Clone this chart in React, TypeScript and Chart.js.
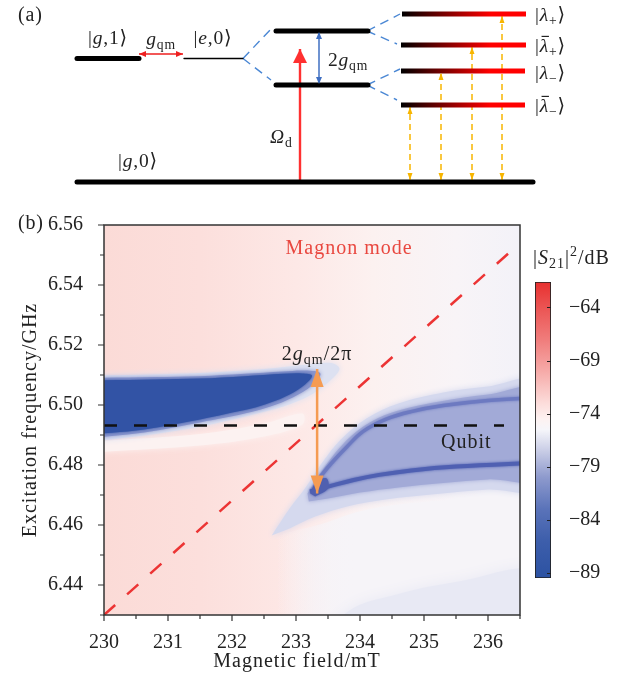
import React, { useEffect, useRef } from 'react';
import { Chart, registerables } from 'chart.js';

Chart.register(...registerables);

const SERIF = "'Liberation Serif', 'DejaVu Serif', 'DejaVu Sans', serif";
const INK = '#222222';

type Pt = [number, number];
type Seg = { t: string; i?: boolean; sub?: boolean; sup?: boolean; bar?: boolean };

// ================= Panel (a): energy-level diagram (layout units) =================
const levelStart = [77, 184, 276, 276, 77, 402, 401, 401, 401];
const levelEnd = [139, 243, 368, 368, 533, 526, 526, 525, 525];
const levelEnergy = [58.5, 58.5, 31, 85, 182, 14, 45, 71, 105];
const levelKind = ['thick', 'thin', 'thick', 'thick', 'thick', 'hybrid', 'hybrid', 'hybrid', 'hybrid'];

const splitFrom: Pt[] = [[243, 58.5], [243, 58.5], [367, 31], [367, 31], [367, 85], [367, 85]];
const splitTo: Pt[] = [[271, 29], [271, 80], [400, 14], [397, 44], [400, 69], [397, 100]];

const arrowFrom: Pt[] = [[139, 54], [300, 182], [319, 84], [410, 180], [441, 180], [472, 180], [502, 180]];
const arrowTo: Pt[] = [[183, 54], [300, 49], [319, 32], [410, 107], [441, 73], [472, 47], [502, 16]];
const arrowKind = ['coupling', 'drive', 'splitting', 'probe', 'probe', 'probe', 'probe'];

const diagramLabels: Seg[][] = [
  [{ t: '(a)' }],
  [{ t: '|' }, { t: 'g', i: true }, { t: ',1' }, { t: '\u27E9' }],
  [{ t: 'g', i: true }, { t: 'qm', sub: true }],
  [{ t: '|' }, { t: 'e', i: true }, { t: ',0' }, { t: '\u27E9' }],
  [{ t: '2' }, { t: 'g', i: true }, { t: 'qm', sub: true }],
  [{ t: '\u03A9', i: true }, { t: 'd', sub: true }],
  [{ t: '|' }, { t: 'g', i: true }, { t: ',0' }, { t: '\u27E9' }],
  [{ t: '|' }, { t: '\u03BB', i: true }, { t: '+', sub: true }, { t: '\u27E9' }],
  [{ t: '|' }, { t: '\u03BB', i: true, bar: true }, { t: '+', sub: true }, { t: '\u27E9' }],
  [{ t: '|' }, { t: '\u03BB', i: true }, { t: '\u2212', sub: true }, { t: '\u27E9' }],
  [{ t: '|' }, { t: '\u03BB', i: true, bar: true }, { t: '\u2212', sub: true }, { t: '\u27E9' }],
];
const diagramLabelPos: Pt[] = [[18, 21], [108, 44], [161, 45], [213, 44], [328, 66], [270, 143], [138, 167], [535, 21], [535, 52], [535, 79], [535, 112]];
const diagramLabelAlign = ['left', 'center', 'center', 'center', 'left', 'left', 'center', 'left', 'left', 'left', 'left'];

// ================= Panel (b): transmission map =================
const fieldMin = 230;
const fieldMax = 236.5;
const freqMin = 6.43;
const freqMax = 6.56;
const fieldStep = 0.5;
const freqStep = 0.01;

const qubitLine: Pt[] = [[230, 6.4932], [236.25, 6.4932]];
const magnonLine: Pt[] = [[230, 6.43], [236.5, 6.554]];
const gapArrow: Pt[] = [[233.33, 6.4705], [233.33, 6.512]];

const bgStops: Pt[] = [[230, 0], [231.5, 1], [233, 2], [234.2, 3], [235.5, 4], [236.5, 5]];
const bgColors = ['#fbdbd7', '#fcdfdc', '#fde8e6', '#fcf1f0', '#f8f4f7', '#f3f2f8'];

const lowerRightPale: Pt[] = [[232.5, 6.415], [232.5, 6.452], [233.5, 6.461], [234.2, 6.4655], [235.2, 6.468], [236.8, 6.4695], [236.8, 6.415]];
const lowerRightFade: Pt = [232.7, 233.9];
const bottomRightLav: Pt[] = [[233.2, 6.415], [233.8, 6.431], [234.6, 6.437], [235.5, 6.441], [236.8, 6.444], [236.8, 6.415]];
const leftWhiteStreak: Pt[] = [[229.8, 6.4878], [231.5, 6.4903], [232.5, 6.4938], [233.1, 6.4972], [233.1, 6.4935], [232.5, 6.4895], [231.5, 6.4865], [229.8, 6.4842]];
const leftHaloOuter: Pt[] = [[229.8, 6.5098], [231.5, 6.5107], [232.5, 6.512], [233.2, 6.5135], [233.55, 6.514], [233.68, 6.512], [233.5, 6.5075], [233.2, 6.503], [232.8, 6.4995], [232.3, 6.4967], [231.5, 6.4928], [230.8, 6.4903], [229.8, 6.4878]];
const leftHaloMid: Pt[] = [[229.8, 6.509], [230.8, 6.5093], [231.5, 6.5096], [232.2, 6.5104], [232.8, 6.5112], [233.15, 6.5115], [233.38, 6.5105], [233.25, 6.5065], [232.95, 6.5025], [232.6, 6.4995], [232.3, 6.4977], [231.9, 6.4958], [231.5, 6.4942], [231, 6.4922], [230.5, 6.4905], [229.8, 6.489]];
const leftCore: Pt[] = [[229.8, 6.5082], [230.8, 6.5085], [231.5, 6.5088], [232.2, 6.5096], [232.8, 6.5104], [233.1, 6.5105], [233.25, 6.5098], [233.15, 6.507], [232.9, 6.5035], [232.6, 6.5008], [232.3, 6.4988], [231.9, 6.497], [231.5, 6.4952], [231, 6.4932], [230.5, 6.4915], [229.8, 6.4902]];
const rightHaloOuter: Pt[] = [[232.62, 6.4565], [232.9, 6.4655], [233.15, 6.4725], [233.4, 6.4805], [233.7, 6.4885], [234.1, 6.4955], [234.6, 6.5005], [235.3, 6.5042], [236, 6.5062], [236.8, 6.5078], [236.8, 6.4725], [236, 6.4718], [235.2, 6.4703], [234.4, 6.4685], [233.8, 6.4662], [233.3, 6.4628], [232.9, 6.4588]];
const rightMedium: Pt[] = [[233.18, 6.4705], [233.42, 6.4785], [233.7, 6.4862], [234.05, 6.4928], [234.5, 6.4975], [235.2, 6.501], [236, 6.5035], [236.8, 6.505], [236.8, 6.4758], [236, 6.4752], [235.3, 6.474], [234.6, 6.4725], [234, 6.4708], [233.5, 6.4688], [233.2, 6.4678]];
const rightUpperLine: Pt[] = [[233.32, 6.4745], [233.55, 6.4805], [233.8, 6.4862], [234.05, 6.4912], [234.4, 6.4952], [234.8, 6.4978], [235.3, 6.4998], [236, 6.5015], [236.8, 6.5025]];
const rightLowerLine: Pt[] = [[233.22, 6.4712], [233.5, 6.4728], [233.9, 6.475], [234.3, 6.4767], [234.8, 6.4782], [235.5, 6.4795], [236.8, 6.4808]];
const rightTip: Pt[] = [[233.22, 6.4706], [233.32, 6.4745], [233.48, 6.4755], [233.5, 6.4722], [233.3, 6.4695]];

const heatTextMagnon: Seg[] = [{ t: 'Magnon mode' }];
const heatTextGap: Seg[] = [{ t: '2' }, { t: 'g', i: true }, { t: 'qm', sub: true }, { t: '/2\u03C0' }];
const heatTextQubit: Seg[] = [{ t: 'Qubit' }];
const heatTextPos: Pt[] = [[233.83, 6.5502], [233.33, 6.515], [235.66, 6.4856]];

// ================= Colour bar =================
const cbMin = -89.5;
const cbMax = -61.6;
const cbTicks = [-89, -84, -79, -74, -69, -64];
const cbStopValues = [-89.5, -86, -83, -80, -77.5, -75.5, -74.5, -73, -70, -67, -64, -61.6];
const cbStopColors = ['#2c52a2', '#3d5eab', '#5a73b9', '#8e9acd', '#c9cde6', '#f6f6fa', '#fdf2f1', '#fcdcda', '#f6aaa8', '#f07c7b', '#eb5453', '#e8302f'];
const cbTitle: Seg[] = [{ t: '|' }, { t: 'S', i: true }, { t: '21', sub: true }, { t: '|' }, { t: '2', sup: true }, { t: '/dB' }];

// ================= helpers =================
function segFont(s: Seg, size: number) {
  const sz = s.sub || s.sup ? size * 0.7 : size;
  return `${s.i ? 'italic ' : ''}${sz}px ${SERIF}`;
}

function drawRich(ctx: any, segs: Seg[], x: number, y: number, size: number, align: string, color: string, spacing = 0) {
  ctx.save();
  ctx.fillStyle = color;
  ctx.strokeStyle = color;
  ctx.textBaseline = 'alphabetic';
  ctx.textAlign = 'left';
  ctx.letterSpacing = spacing + 'px';
  let total = 0;
  const widths = segs.map((s) => {
    ctx.font = segFont(s, size);
    const w = ctx.measureText(s.t).width;
    total += w;
    return w;
  });
  let cx = align === 'center' ? x - total / 2 : align === 'right' ? x - total : x;
  segs.forEach((s, k) => {
    ctx.font = segFont(s, size);
    const dy = s.sub ? size * 0.22 : s.sup ? -size * 0.4 : 0;
    ctx.fillText(s.t, cx, y + dy);
    if (s.bar) {
      ctx.lineWidth = Math.max(1, size * 0.06);
      ctx.beginPath();
      ctx.moveTo(cx + widths[k] * 0.2, y - size * 0.8);
      ctx.lineTo(cx + widths[k] * 1.0, y - size * 0.8);
      ctx.stroke();
    }
    cx += widths[k];
  });
  ctx.restore();
}

function drawHead(ctx: any, tip: Pt, from: Pt, len: number, w: number, color: string) {
  const ang = Math.atan2(tip[1] - from[1], tip[0] - from[0]);
  const dx = Math.cos(ang), dy = Math.sin(ang);
  const bx = tip[0] - dx * len, by = tip[1] - dy * len;
  ctx.save();
  ctx.fillStyle = color;
  ctx.beginPath();
  ctx.moveTo(tip[0], tip[1]);
  ctx.lineTo(bx - dy * w / 2, by + dx * w / 2);
  ctx.lineTo(bx + dy * w / 2, by - dx * w / 2);
  ctx.closePath();
  ctx.fill();
  ctx.restore();
}

const baseOptions: any = {
  responsive: false,
  animation: false,
  events: [],
  plugins: { legend: { display: false }, tooltip: { enabled: false } },
  elements: { point: { radius: 0 }, line: { tension: 0, capBezierPoints: false } },
};

const toXY = (pts: Pt[]) => pts.map(([x, y]) => ({ x, y }));

// ================= Panel (a) chart =================
const arrowStyle: any = {
  coupling: { color: '#ee1f1f', width: 1.5, dash: [], both: true, len: 7, w: 6 },
  drive: { color: '#ff3030', width: 2.4, dash: [], both: false, len: 14, w: 14 },
  splitting: { color: '#3f6fc2', width: 1.5, dash: [], both: true, len: 7, w: 6 },
  probe: { color: '#f7b500', width: 1.5, dash: [6, 4], both: true, len: 7, w: 5 },
};

function makeDiagram(canvas: HTMLCanvasElement) {
  const datasets: any[] = [];
  levelStart.forEach((x1, k) => {
    const x2 = levelEnd[k];
    const kind = levelKind[k];
    datasets.push({
      data: [{ x: x1, y: levelEnergy[k] }, { x: x2, y: levelEnergy[k] }],
      borderColor: kind === 'hybrid'
        ? (c: any) => {
            const ch = c.chart;
            if (!ch.chartArea) return '#800000';
            const xs = ch.scales.x;
            const g = ch.ctx.createLinearGradient(xs.getPixelForValue(x1), 0, xs.getPixelForValue(x2), 0);
            g.addColorStop(0, '#000000');
            g.addColorStop(0.72, '#ff0000');
            g.addColorStop(1, '#ff0000');
            return g;
          }
        : '#000000',
      borderWidth: kind === 'thin' ? 1.3 : 5,
      borderCapStyle: kind === 'hybrid' ? 'butt' : 'round',
      clip: false,
    });
  });
  splitFrom.forEach((p, k) => {
    datasets.push({
      data: toXY([p, splitTo[k]]),
      borderColor: '#4a87d4',
      borderWidth: 1.4,
      borderDash: [9, 6],
      clip: false,
    });
  });
  arrowFrom.forEach((p, k) => {
    const st = arrowStyle[arrowKind[k]];
    datasets.push({
      data: toXY([p, arrowTo[k]]),
      borderColor: st.color,
      borderWidth: st.width,
      borderDash: st.dash,
      clip: false,
    });
  });

  const plugin = {
    id: 'diagramDecor',
    afterDatasetsDraw(chart: any) {
      const { ctx, scales } = chart;
      const px = (p: Pt): Pt => [scales.x.getPixelForValue(p[0]), scales.y.getPixelForValue(p[1])];
      arrowFrom.forEach((p, k) => {
        const st = arrowStyle[arrowKind[k]];
        const a = px(p), b = px(arrowTo[k]);
        drawHead(ctx, b, a, st.len, st.w, st.color);
        if (st.both) drawHead(ctx, a, b, st.len, st.w, st.color);
      });
      diagramLabels.forEach((segs, k) => {
        const [x, y] = px(diagramLabelPos[k]);
        drawRich(ctx, segs, x, y, k === 0 ? 20 : 19.5, diagramLabelAlign[k], INK, 0.8);
      });
    },
  };

  return new Chart(canvas, {
    type: 'line',
    data: { datasets },
    options: {
      ...baseOptions,
      layout: { padding: 0 },
      scales: {
        x: { type: 'linear', display: false, min: 0, max: 627 },
        y: { type: 'linear', display: false, min: 0, max: 200, reverse: true },
      },
    },
    plugins: [plugin],
  } as any);
}

// ================= Panel (b) chart =================
function applySoft(chart: any, idx: any) {
  const ds = idx == null ? null : chart.data.datasets[idx];
  const ctx = chart.ctx;
  if (ds && ds.soft) {
    ctx.shadowColor = ds.softColor;
    ctx.shadowBlur = ds.soft;
    ctx.shadowOffsetX = 0;
    ctx.shadowOffsetY = 0;
  } else {
    ctx.shadowColor = 'rgba(0,0,0,0)';
    ctx.shadowBlur = 0;
  }
}

function makeHeat(canvas: HTMLCanvasElement) {
  const paleFill = (c: any) => {
    const ch = c.chart;
    if (!ch.chartArea) return 'rgba(246,244,248,1)';
    const xs = ch.scales.x;
    const g = ch.ctx.createLinearGradient(xs.getPixelForValue(lowerRightFade[0]), 0, xs.getPixelForValue(lowerRightFade[1]), 0);
    g.addColorStop(0, 'rgba(246,244,248,0)');
    g.addColorStop(1, 'rgba(246,244,248,1)');
    return g;
  };
  const regions: any[] = [
    { pts: lowerRightPale, color: paleFill, softColor: 'rgba(246,244,248,1)', soft: 10 },
    { pts: bottomRightLav, color: '#e8e9f4', soft: 14 },
    { pts: leftWhiteStreak, color: '#fcf2f1', soft: 6 },
    { pts: leftHaloOuter, color: '#dde1f1', soft: 6 },
    { pts: leftHaloMid, color: '#8794cc', soft: 4 },
    { pts: leftCore, color: '#3253a5', soft: 3 },
    { pts: rightHaloOuter, color: '#d5d9ee', soft: 6 },
    { pts: rightMedium, color: '#a2aad7', soft: 4 },
  ];
  const datasets: any[] = regions.map((r) => ({
    data: toXY(r.pts),
    fill: 'shape',
    backgroundColor: r.color,
    borderColor: 'rgba(0,0,0,0)',
    borderWidth: 1,
    tension: 0.35,
    soft: r.soft,
    softColor: r.softColor || r.color,
    clip: 0,
  }));
  datasets.push(
    { data: toXY(rightUpperLine), borderColor: '#6d7ac1', borderWidth: 3.5, tension: 0.4, soft: 3, softColor: '#6d7ac1', fill: false, clip: 0 },
    { data: toXY(rightLowerLine), borderColor: '#4f60b2', borderWidth: 4, tension: 0.4, soft: 3, softColor: '#4f60b2', fill: false, clip: 0 },
    { data: toXY(rightTip), fill: 'shape', backgroundColor: '#5060b0', borderColor: 'rgba(0,0,0,0)', borderWidth: 1, tension: 0.35, soft: 3, softColor: '#5060b0', clip: 0 },
    { data: toXY(magnonLine), borderColor: '#ec3434', borderWidth: 2.5, borderDash: [15, 16], fill: false, clip: 0 },
    { data: toXY(qubitLine), borderColor: '#111111', borderWidth: 2.5, borderDash: [13, 17], fill: false, clip: 0 },
    { data: toXY(gapArrow), borderColor: '#f59b52', borderWidth: 2.5, fill: false, clip: 0 },
  );
  const n = datasets.length;
  datasets.forEach((d, k) => { d.order = n - k; d.pointRadius = 0; });

  const plugin = {
    id: 'heatDecor',
    beforeDatasetsDraw(chart: any) {
      const { ctx, chartArea: a, scales } = chart;
      const g = ctx.createLinearGradient(scales.x.getPixelForValue(fieldMin), 0, scales.x.getPixelForValue(fieldMax), 0);
      bgStops.forEach(([v, ci]) => g.addColorStop((v - fieldMin) / (fieldMax - fieldMin), bgColors[ci]));
      ctx.save();
      ctx.fillStyle = g;
      ctx.fillRect(a.left, a.top, a.width, a.height);
      ctx.restore();
      const order = chart.getSortedVisibleDatasetMetas().map((m: any) => m.index).reverse();
      chart.$softOrder = order;
      applySoft(chart, order[0]);
    },
    afterDatasetDraw(chart: any, args: any) {
      const order = chart.$softOrder || [];
      const pos = order.indexOf(args.index);
      applySoft(chart, order[pos + 1]);
    },
    afterDatasetsDraw(chart: any) {
      const { ctx, scales } = chart;
      applySoft(chart, null);
      const px = (p: Pt): Pt => [scales.x.getPixelForValue(p[0]), scales.y.getPixelForValue(p[1])];
      const a = px(gapArrow[0]), b = px(gapArrow[1]);
      drawHead(ctx, b, a, 18, 13, '#f59b52');
      drawHead(ctx, a, b, 18, 13, '#f59b52');
      const t0 = px(heatTextPos[0]);
      drawRich(ctx, heatTextMagnon, t0[0], t0[1], 20, 'center', '#e9473f', 1);
      const t1 = px(heatTextPos[1]);
      drawRich(ctx, heatTextGap, t1[0], t1[1], 20, 'center', INK, 1);
      const t2 = px(heatTextPos[2]);
      drawRich(ctx, heatTextQubit, t2[0], t2[1], 20, 'center', INK, 1);
    },
    afterDraw(chart: any) {
      const { ctx, chartArea: ar, scales } = chart;
      ctx.save();
      ctx.strokeStyle = '#333333';
      ctx.lineWidth = 1.2;
      ctx.beginPath();
      scales.x.ticks.forEach((t: any) => {
        const x = scales.x.getPixelForValue(t.value);
        const major = Math.abs(t.value - Math.round(t.value)) < 1e-6;
        ctx.moveTo(x, ar.bottom);
        ctx.lineTo(x, ar.bottom + (major ? 6 : 4));
      });
      scales.y.ticks.forEach((t: any) => {
        const y = scales.y.getPixelForValue(t.value);
        const major = Math.round(t.value * 100) % 2 === 0;
        ctx.moveTo(ar.left, y);
        ctx.lineTo(ar.left - (major ? 6 : 4), y);
      });
      ctx.stroke();
      ctx.lineWidth = 1.5;
      ctx.strokeRect(ar.left, ar.top, ar.right - ar.left, ar.bottom - ar.top);
      ctx.restore();
      drawRich(ctx, [{ t: 'Magnetic field/mT' }], 297, 467, 20, 'center', INK, 1);
      ctx.save();
      ctx.translate(36, (ar.top + ar.bottom) / 2);
      ctx.rotate(-Math.PI / 2);
      drawRich(ctx, [{ t: 'Excitation frequency/GHz' }], 0, 0, 20, 'center', INK, 1);
      ctx.restore();
      drawRich(ctx, [{ t: '(b)' }], 18, 29, 20, 'left', INK, 0.8);
    },
  };

  const tickFont = { family: SERIF, size: 20 };
  return new Chart(canvas, {
    type: 'line',
    data: { datasets },
    options: {
      ...baseOptions,
      layout: { padding: { left: 0, right: 107, top: 22, bottom: 0 } },
      scales: {
        x: {
          type: 'linear', min: fieldMin, max: fieldMax,
          ticks: {
            stepSize: fieldStep, autoSkip: false, maxRotation: 0, font: tickFont, color: INK, padding: 8,
            callback: (v: any) => (Math.abs(v - Math.round(v)) < 1e-6 ? String(Math.round(v)) : ''),
          },
          grid: { display: false },
          border: { display: false },
          afterFit: (s: any) => { s.height = 60; },
        },
        y: {
          type: 'linear', min: freqMin, max: freqMax,
          ticks: {
            stepSize: freqStep, autoSkip: false, font: tickFont, color: INK, padding: 13,
            callback: (v: any) => { const k = Math.round(Number(v) * 100); return k % 2 === 0 ? (k / 100).toFixed(2) : ''; },
          },
          grid: { display: false },
          border: { display: false },
          afterFit: (s: any) => { s.width = 104; },
        },
      },
    },
    plugins: [plugin],
  } as any);
}

// ================= Colour bar chart =================
function makeColorbar(canvas: HTMLCanvasElement) {
  const plugin = {
    id: 'cbDecor',
    afterDatasetsDraw(chart: any) {
      const { ctx, chartArea: ar, scales } = chart;
      ctx.save();
      ctx.strokeStyle = '#222222';
      ctx.lineWidth = 1;
      ctx.beginPath();
      cbTicks.forEach((v) => {
        const y = Math.round(scales.y.getPixelForValue(v)) + 0.5;
        ctx.moveTo(ar.right - 4, y);
        ctx.lineTo(ar.right, y);
      });
      ctx.stroke();
      ctx.restore();
      drawRich(ctx, cbTitle, 6, 24, 20, 'left', INK, 1);
    },
  };
  return new Chart(canvas, {
    type: 'bar',
    data: {
      labels: ['S21'],
      datasets: [{
        data: [[cbMin, cbMax]],
        backgroundColor: (c: any) => {
          const ch = c.chart;
          if (!ch.chartArea) return '#ffffff';
          const ys = ch.scales.y;
          const g = ch.ctx.createLinearGradient(0, ys.getPixelForValue(cbMin), 0, ys.getPixelForValue(cbMax));
          cbStopValues.forEach((v, k) => g.addColorStop((v - cbMin) / (cbMax - cbMin), cbStopColors[k]));
          return g;
        },
        borderColor: '#222222',
        borderWidth: 1.2,
        borderSkipped: false,
        barPercentage: 1,
        categoryPercentage: 1,
      }],
    },
    options: {
      ...baseOptions,
      layout: { padding: { left: 8, top: 42, bottom: 15, right: 0 } },
      scales: {
        x: { display: false },
        y: {
          position: 'right', min: cbMin, max: cbMax,
          afterBuildTicks: (s: any) => { s.ticks = cbTicks.map((v) => ({ value: v })); },
          ticks: { font: { family: SERIF, size: 20 }, color: INK, padding: 10, callback: (v: any) => '\u2212' + Math.abs(Number(v)) },
          grid: { display: false },
          border: { display: false },
          afterFit: (s: any) => { s.width = 76; },
        },
      },
    },
    plugins: [plugin],
  } as any);
}

export default function App() {
  const aRef = useRef<HTMLCanvasElement>(null);
  const bRef = useRef<HTMLCanvasElement>(null);
  const cRef = useRef<HTMLCanvasElement>(null);
  useEffect(() => {
    const charts = [makeDiagram(aRef.current!), makeHeat(bRef.current!), makeColorbar(cRef.current!)];
    return () => charts.forEach((c) => c.destroy());
  }, []);
  return (
    <div style={{ position: 'absolute', left: 0, top: 0, width: 627, height: 675, background: '#ffffff', overflow: 'hidden' }}>
      <canvas ref={aRef} width={627} height={200} style={{ position: 'absolute', left: 0, top: 0, width: 627, height: 200 }} />
      <canvas ref={bRef} width={627} height={475} style={{ position: 'absolute', left: 0, top: 200, width: 627, height: 475 }} />
      <canvas ref={cRef} width={100} height={360} style={{ position: 'absolute', left: 527, top: 240, width: 100, height: 360 }} />
    </div>
  );
}
